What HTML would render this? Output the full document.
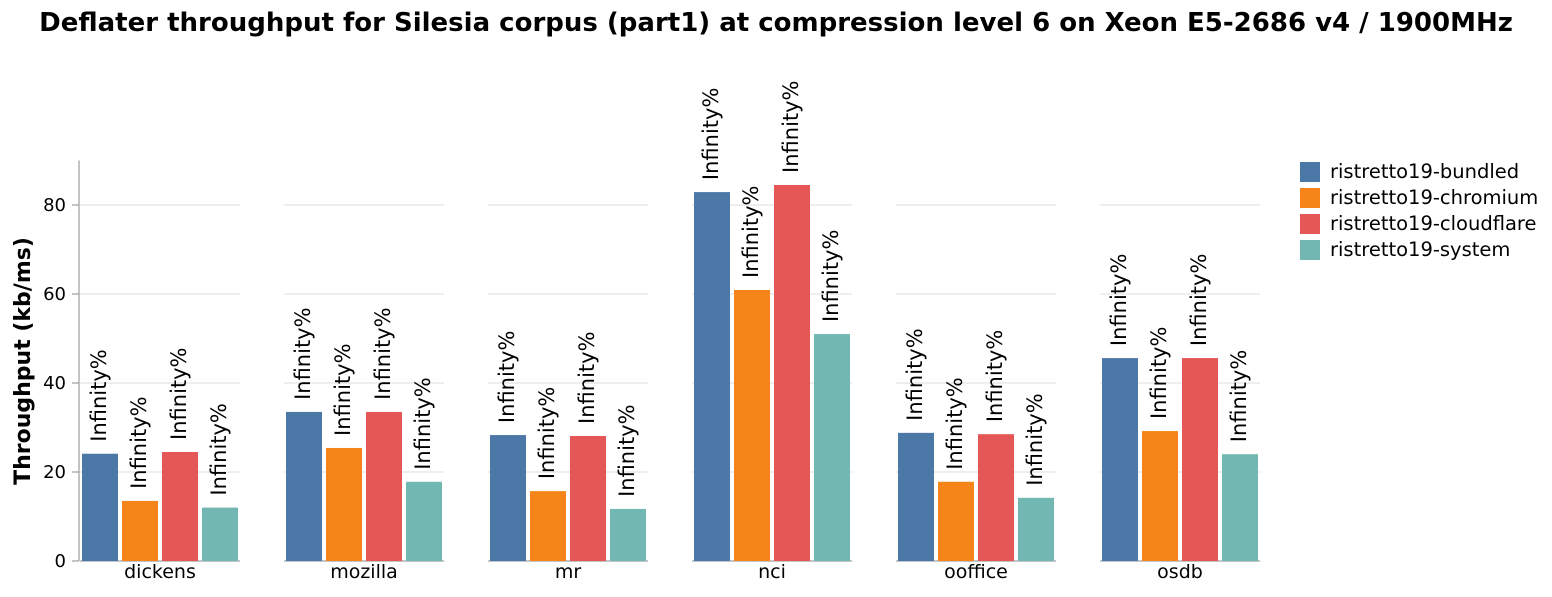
<!DOCTYPE html>
<html><head><meta charset="utf-8"><style>
body{margin:0;background:#fff;}
svg{font-family:"DejaVu Sans","Liberation Sans",sans-serif;}
</style></head><body>
<svg id="chart" width="1552" height="592" xmlns="http://www.w3.org/2000/svg">
<text x="776" y="31" text-anchor="middle" font-size="26" font-weight="bold">Deflater throughput for Silesia corpus (part1) at compression level 6 on Xeon E5-2686 v4 / 1900MHz</text>
<text transform="translate(30,361) rotate(-90)" text-anchor="middle" font-size="22" font-weight="bold">Throughput (kb/ms)</text>
<g id="plot"></g>
<g id="legend"></g>
</svg>
<script>
const categories=["dickens","mozilla","mr","nci","ooffice","osdb"];
const seriesNames=["ristretto19-bundled","ristretto19-chromium","ristretto19-cloudflare","ristretto19-system"];
const bundled=[24.1,33.5,28.3,82.9,28.8,45.6];
const chromium=[13.5,25.4,15.7,60.9,17.8,29.2];
const cloudflare=[24.5,33.5,28.1,84.5,28.5,45.6];
const system=[12.0,17.8,11.7,51.0,14.2,24.0];
const yTicks=[0,20,40,60,80];
const barLabel="Infinity%";
const colors=["#4c78a8","#f58518","#e45756","#72b7b2"];
const series=[bundled,chromium,cloudflare,system];
const NS="http://www.w3.org/2000/svg";
const y0=561,yMax=90,plotH=400.5;
function y(v){return y0-v/yMax*plotH;}
function fx(i){return 80+i*204;}
const g=document.getElementById('plot');
function mk(t,a,p){const e=document.createElementNS(NS,t);for(const k in a)e.setAttribute(k,a[k]);(p||g).appendChild(e);return e;}
for(const t of yTicks){
  const tl=mk('text',{x:66,y:y(t)+6,'text-anchor':'end','font-size':18});
  tl.textContent=t;
  
  
  mk('line',{x1:72,x2:79,y1:y(t),y2:y(t),stroke:'#888'});
}
const ax=mk('line',{x1:79,x2:79,y1:y(yMax),y2:y0,stroke:'#888'});


categories.forEach((c,i)=>{
  const x0=fx(i);
  for(const t of yTicks){ if(t>0) mk('line',{x1:x0,x2:x0+160,y1:y(t),y2:y(t),stroke:'#ddd'}); }
  const base=mk('line',{x1:x0,x2:x0+160,y1:y0,y2:y0,stroke:'#888'});
  
  
  series.forEach((s,k)=>{
    const bx=x0+2+k*40;
    const r=mk('rect',{x:bx,y:y(s[i]),width:36,height:y0-y(s[i]),fill:colors[k]});
    
    
    const cx=bx+18+6, ly=y(s[i])-12;
    const t=mk('text',{transform:`translate(${cx},${ly}) rotate(-90)`,'font-size':21});
    t.textContent=barLabel;
    
    
  });
  const xl=mk('text',{x:x0+80,y:578,'text-anchor':'middle','font-size':19});
  xl.textContent=c;
  
  
});
const lg=document.getElementById('legend');
seriesNames.forEach((n,k)=>{
  const yy=162+k*26;
  const r=mk('rect',{x:1300,y:yy,width:20,height:20,fill:colors[k]},lg);
  
  
  const t=mk('text',{x:1330,y:yy+16,'font-size':19.5},lg);
  t.textContent=n;
  
  
});
</script>
</body></html>
